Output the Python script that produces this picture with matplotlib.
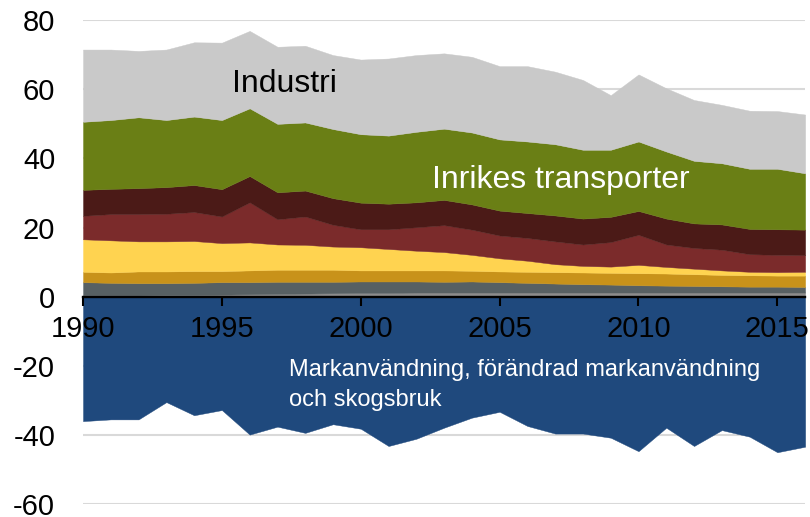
import matplotlib.pyplot as plt

plt.rcParams["font.family"] = ["Liberation Sans", "DejaVu Sans"]
plt.rcParams["axes.unicode_minus"] = False

years = list(range(1990, 2017))

# stacked sectors, bottom to top (Mt CO2-ekv)
ovrigt_ljus = [0.4, 0.4, 0.4, 0.5, 0.5, 0.6, 0.7, 0.8, 0.9, 1.0, 1.1, 1.1, 1.2, 1.2,
               1.2, 1.2, 1.2, 1.2, 1.2, 1.2, 1.2, 1.2, 1.2, 1.2, 1.2, 1.2, 1.2]
ovrigt_mork = [3.8, 3.6, 3.5, 3.4, 3.5, 3.6, 3.5, 3.5, 3.4, 3.3, 3.3, 3.3, 3.2, 3.1,
               3.2, 3.0, 2.8, 2.6, 2.4, 2.3, 2.1, 2.0, 1.9, 1.8, 1.7, 1.7, 1.6]
guld = [3.0, 3.0, 3.4, 3.4, 3.4, 3.2, 3.4, 3.5, 3.5, 3.5, 3.2, 3.2, 3.2, 3.3,
        3.1, 3.1, 3.2, 3.3, 3.4, 3.4, 3.5, 3.5, 3.4, 3.3, 3.3, 3.2, 3.3]
gul = [9.4, 9.3, 8.7, 8.7, 8.7, 8.1, 8.1, 7.3, 7.2, 6.7, 6.7, 6.2, 5.7, 5.3,
       4.6, 3.8, 3.2, 2.3, 1.9, 1.8, 2.4, 1.9, 1.6, 1.3, 1.0, 1.0, 1.1]
rod = [6.8, 7.6, 7.9, 8.0, 8.4, 7.7, 11.6, 7.3, 8.2, 6.3, 5.2, 5.7, 6.8, 7.8,
       7.3, 6.6, 6.6, 6.6, 6.2, 7.1, 8.7, 6.5, 6.0, 6.0, 5.1, 5.0, 4.8]
brun = [7.5, 7.3, 7.5, 7.7, 7.8, 7.9, 7.6, 7.8, 7.5, 7.7, 7.7, 7.4, 7.2, 7.3,
        7.3, 7.2, 7.2, 7.5, 7.5, 7.3, 6.9, 7.5, 7.1, 7.3, 7.3, 7.4, 7.4]
transporter = [19.7, 19.9, 20.5, 19.4, 19.8, 20.0, 19.6, 19.8, 19.7, 20.0, 19.8, 19.7, 20.4, 20.6,
               20.8, 20.6, 20.7, 20.6, 19.9, 19.4, 20.1, 19.4, 18.1, 17.7, 17.4, 17.5, 16.3]
industri = [20.9, 20.4, 19.2, 20.4, 21.5, 22.4, 22.4, 22.3, 22.2, 21.4, 21.6, 22.3, 22.2, 21.8,
            21.9, 21.2, 21.8, 21.0, 20.2, 15.8, 19.4, 18.3, 17.6, 16.9, 16.8, 16.7, 17.0]

# land use, land-use change and forestry (negative)
lulucf = [-36.0, -35.5, -35.5, -30.5, -34.3, -32.8, -39.9, -37.6, -39.4, -36.9, -38.2, -43.2, -41.1, -37.9,
          -35.0, -33.3, -37.4, -39.6, -39.6, -40.8, -44.7, -37.9, -43.2, -38.6, -40.5, -45.0, -43.4]

colors = ["#8c8c8c", "#576063", "#c8921a", "#ffd350", "#7b2b2b", "#4b1a17", "#6a7f15", "#c9c9c9"]
layers = [ovrigt_ljus, ovrigt_mork, guld, gul, rod, brun, transporter, industri]

y_ticks = list(range(-60, 81, 20))

fig = plt.figure(figsize=(8.1, 5.17), dpi=100)
ax = fig.add_axes([0.1025, 0.025, 0.8915, 0.936])

# grid drawn by hand so the tick labels can sit above the areas
for y in y_ticks:
    if y != 0:
        ax.axhline(y, color="#d9d9d9", linewidth=1.5, zorder=0.5)

ax.stackplot(years, layers, colors=colors, edgecolor="face", linewidth=0.3, zorder=2)
ax.fill_between(years, 0, lulucf, color="#1f497d", edgecolor="#1f497d", linewidth=0.3, zorder=2)

ax.set_xlim(1990, 2016)
ax.set_ylim(-60, 80)
ax.set_yticks(y_ticks)
ax.set_xticks(range(1990, 2016, 5))
ax.set_axisbelow(False)

for side in ["top", "right", "left"]:
    ax.spines[side].set_visible(False)
ax.spines["bottom"].set_position(("data", 0))
ax.spines["bottom"].set_linewidth(1.7)
ax.spines["bottom"].set_zorder(5)

ax.tick_params(axis="y", length=0, pad=20, labelsize=21)
ax.tick_params(axis="x", direction="out", length=6.5, width=1.5, pad=7, labelsize=21)

ax.text(1995.37, 59.3, "Industri", fontsize=23, color="black", va="baseline", zorder=6)
ax.text(2002.57, 31.4, "Inrikes transporter", fontsize=23, color="white", va="baseline", zorder=6)
ax.text(1997.42, -23.0, "Markanvändning, förändrad markanvändning", fontsize=17,
        color="white", va="baseline", zorder=6)
ax.text(1997.42, -31.5, "och skogsbruk", fontsize=17, color="white", va="baseline", zorder=6)

fig.savefig("out.png", dpi=100)
